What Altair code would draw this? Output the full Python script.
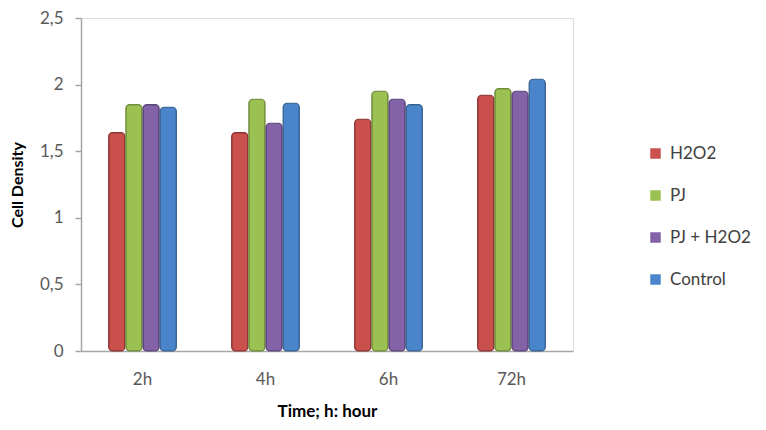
import altair as alt
import pandas as pd

times = ["2h", "4h", "6h", "72h"]
series = ["H2O2", "PJ", "PJ + H2O2", "Control"]
colors = ["#c9504d", "#9bc152", "#8462a8", "#4a85cc"]
strokes = ["#8c3331", "#6f8a3a", "#5a4578", "#35618f"]
h2o2 = [1.64, 1.64, 1.74, 1.92]
pj = [1.85, 1.89, 1.95, 1.97]
pj_h2o2 = [1.85, 1.71, 1.89, 1.95]
control = [1.83, 1.86, 1.85, 2.04]
y_ticks = [0, 0.5, 1, 1.5, 2, 2.5]

rows = []
for name, vals in zip(series, [h2o2, pj, pj_h2o2, control]):
    for t, v in zip(times, vals):
        rows.append({"Time": t, "Series": name, "Value": v})
df = pd.DataFrame(rows)

FONT = "Lato"

bars = alt.Chart(df).mark_bar(
    strokeWidth=1.2, cornerRadiusTopLeft=4, cornerRadiusTopRight=4,
    cornerRadiusBottomLeft=4, cornerRadiusBottomRight=4
).encode(
    x=alt.X("Time:N", sort=times,
            scale=alt.Scale(paddingInner=0.45, paddingOuter=0.225),
            axis=alt.Axis(title="Time; h: hour", labelAngle=0, ticks=False,
                          domain=True, domainColor="#a6a6a6", domainWidth=1.5,
                          labelFontSize=17, labelColor="#595959", labelPadding=20,
                          titleFontSize=17, titleFontWeight="bold", titleColor="#000000",
                          titlePadding=16, labelFont=FONT, titleFont=FONT)),
    xOffset=alt.XOffset("Series:N", sort=series, scale=alt.Scale(paddingInner=0.06)),
    y=alt.Y("Value:Q", scale=alt.Scale(domain=[0, 2.5], nice=False),
            axis=alt.Axis(title="Cell Density", values=y_ticks, grid=False,
                          labelExpr="replace(format(datum.value, '~g'), '.', ',')",
                          domainColor="#a6a6a6", domainWidth=1.5, tickColor="#a6a6a6",
                          tickSize=6, tickWidth=1.5, labelPadding=12,
                          labelFontSize=17, labelColor="#595959",
                          titleFontSize=16, titleFontWeight="bold", titleColor="#000000",
                          titlePadding=14, labelFont=FONT, titleFont=FONT)),
    color=alt.Color("Series:N", sort=series,
                    scale=alt.Scale(domain=series, range=colors),
                    legend=alt.Legend(title=None, orient="none", legendX=566, legendY=127,
                                      symbolType="square", symbolSize=110,
                                      symbolStrokeWidth=0, labelFontSize=17,
                                      labelColor="#404040", labelFont=FONT,
                                      rowPadding=24, labelOffset=6)),
    stroke=alt.Stroke("Series:N", sort=series,
                      scale=alt.Scale(domain=series, range=strokes), legend=None),
)

chart = bars.properties(
    width=492, height=333,
    autosize=alt.AutoSizeParams(type="none"),
    padding={"left": 73, "top": 10, "right": 185, "bottom": 82},
).configure_view(stroke=None).configure(background="white")

chart.save("out.html", embed_options={"renderer": "svg", "actions": False})
